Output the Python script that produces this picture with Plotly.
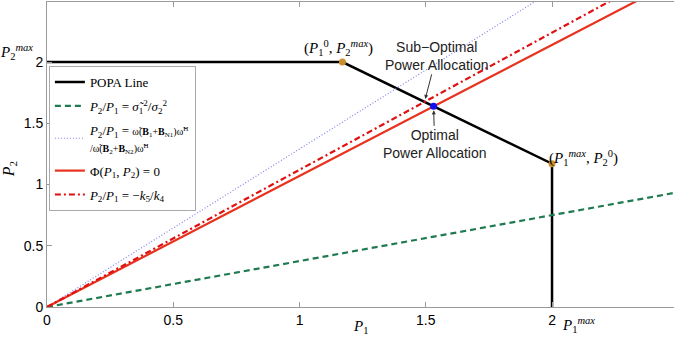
import plotly.graph_objects as go

# ---- data ----
popa_x = [0, 1.17, 2.0, 2.0]
popa_y = [2.0, 2.0, 1.17, 0.0]
corner_x = [1.17, 2.0]
corner_y = [2.0, 1.17]
slope_green = 0.375
slope_blue = 1.29
slope_red = 1.07
slope_reddash = 1.12
optimal = (1.531, 1.638)
suboptimal = (1.495, 1.675)
x_max = 2.483
y_max = 2.49
tick_vals = [0, 0.5, 1, 1.5, 2]
tick_text = ["0", "0.5", "1", "1.5", "2"]

SERIF = "Liberation Serif, Times New Roman, serif"
SANS = "Liberation Sans, Arial, sans-serif"

fig = go.Figure()

def ray(slope):
    return [0, x_max], [0, slope * x_max]

fig.add_trace(go.Scatter(x=popa_x, y=popa_y, mode="lines",
                         line=dict(color="black", width=2.5),
                         name="POPA Line", legendgroup="a"))
gx, gy = ray(slope_green)
fig.add_trace(go.Scatter(x=gx, y=gy, mode="lines",
                         line=dict(color="#1f7a50", width=2.2, dash="6px,4px"),
                         name="<i>P</i><sub>2</sub>/<i>P</i><sub>1</sub> = <i>σ̃</i><sub>1</sub><sup>2</sup>/<i>σ</i><sub>2</sub><sup>2</sup>",
                         legendgroup="b"))
bx, by = ray(slope_blue)
fig.add_trace(go.Scatter(x=bx, y=by, mode="lines",
                         line=dict(color="#8080f0", width=1.2, dash="1px,2px"),
                         name="<i>P</i><sub>2</sub>/<i>P</i><sub>1</sub> = <span style='font-size:10px'>ω̃(<b>B</b><sub>1</sub>+<b>B</b><sub>N1</sub>)ω̃<sup>H</sup><br>/ω̃(<b>B</b><sub>2</sub>+<b>B</b><sub>N2</sub>)ω̃<sup>H</sup></span>",
                         legendgroup="c"))
rx, ry = ray(slope_red)
fig.add_trace(go.Scatter(x=rx, y=ry, mode="lines",
                         line=dict(color="#e8321e", width=2.2),
                         name="Φ(<i>P</i><sub>1</sub>, <i>P</i><sub>2</sub>) = 0",
                         legendgroup="d"))
dx, dy = ray(slope_reddash)
fig.add_trace(go.Scatter(x=dx, y=dy, mode="lines",
                         line=dict(color="#e01010", width=2.2, dash="6px,3px,2px,3px"),
                         name="<i>P</i><sub>2</sub>/<i>P</i><sub>1</sub> = −<i>k</i><sub>5</sub>/<i>k</i><sub>4</sub>",
                         legendgroup="e"))

fig.add_trace(go.Scatter(x=corner_x, y=corner_y, mode="markers",
                         marker=dict(color="#c8902a", size=7), showlegend=False))
fig.add_trace(go.Scatter(x=[optimal[0]], y=[optimal[1]], mode="markers",
                         marker=dict(color="#1010ee", size=7, symbol="circle",
                                     line=dict(color="#1010ee", width=0)),
                         showlegend=False))
fig.add_trace(go.Scatter(x=[suboptimal[0]], y=[suboptimal[1]], mode="markers",
                         marker=dict(color="rgba(0,0,0,0)", size=7, symbol="circle-open",
                                     line=dict(color="#1010ee", width=2)),
                         showlegend=False))

ann = []
ann.append(dict(x=corner_x[0], y=corner_y[0], xref="x", yref="y",
                text="(<i>P</i><sub>1</sub><sup>0</sup>, <i>P</i><sub>2</sub><sup><i>max</i></sup>)",
                showarrow=False, xshift=-4, yshift=14,
                font=dict(family=SERIF, size=15, color="black")))
ann.append(dict(x=corner_x[1], y=corner_y[1], xref="x", yref="y",
                text="(<i>P</i><sub>1</sub><sup><i>max</i></sup>, <i>P</i><sub>2</sub><sup>0</sup>)",
                showarrow=False, xanchor="left", xshift=-5, yshift=6,
                font=dict(family=SERIF, size=15, color="black")))
ann.append(dict(x=suboptimal[0], y=suboptimal[1], xref="x", yref="y",
                text="Sub−Optimal<br>Power Allocation", showarrow=True,
                ax=12, ay=-46, arrowhead=2, arrowsize=0.8, arrowwidth=1, arrowcolor="#333",
                standoff=3, font=dict(family=SANS, size=14, color="#222")))
ann.append(dict(x=optimal[0], y=optimal[1], xref="x", yref="y",
                text="Optimal<br>Power Allocation", showarrow=True,
                ax=1, ay=38, arrowhead=2, arrowsize=0.8, arrowwidth=1, arrowcolor="#333",
                standoff=4, font=dict(family=SANS, size=14, color="#222")))
ann.append(dict(x=0, y=2, xref="paper", yref="y",
                text="<i>P</i><sub>2</sub><sup><i>max</i></sup>", showarrow=False,
                xanchor="right", xshift=-12, yshift=10,
                font=dict(family=SERIF, size=15, color="black")))
ann.append(dict(x=2, y=0, xref="x", yref="paper",
                text="<i>P</i><sub>1</sub><sup><i>max</i></sup>", showarrow=False,
                xanchor="left", yanchor="top", xshift=8, yshift=-6,
                font=dict(family=SERIF, size=15, color="black")))
ann.append(dict(x=0.5, y=0, xref="paper", yref="paper",
                text="<i>P</i><sub>1</sub>", showarrow=False,
                yanchor="top", yshift=-9,
                font=dict(family=SERIF, size=15, color="black")))
ann.append(dict(x=0, y=0.45, xref="paper", yref="paper",
                text="<i>P</i><sub>2</sub>", showarrow=False, textangle=-90,
                xanchor="right", xshift=-26,
                font=dict(family=SERIF, size=16, color="black")))

fig.update_layout(
    width=674, height=339,
    margin=dict(l=47, r=0, t=2, b=32),
    plot_bgcolor="white", paper_bgcolor="white",
    showlegend=True,
    legend=dict(x=0.003, y=0.79, xanchor="left", yanchor="top",
                bgcolor="white", bordercolor="#aaaaaa", borderwidth=1,
                font=dict(family=SERIF, size=13, color="black"),
                tracegroupgap=4, itemwidth=30),
    annotations=ann,
)
fig.update_xaxes(range=[0, x_max], tickvals=tick_vals, ticktext=tick_text,
                 showgrid=False, zeroline=False, showline=True, linecolor="#9a9a9a",
                 linewidth=1, mirror="ticks", ticks="inside", ticklen=5, tickcolor="#9a9a9a",
                 tickfont=dict(family=SANS, size=14, color="black"))
fig.update_yaxes(range=[0, y_max], tickvals=tick_vals, ticktext=tick_text,
                 showgrid=False, zeroline=False, showline=True, linecolor="#9a9a9a",
                 linewidth=1, ticks="inside", ticklen=5, tickcolor="#9a9a9a",
                 tickfont=dict(family=SANS, size=14, color="black"))

fig.write_html("out.html")
